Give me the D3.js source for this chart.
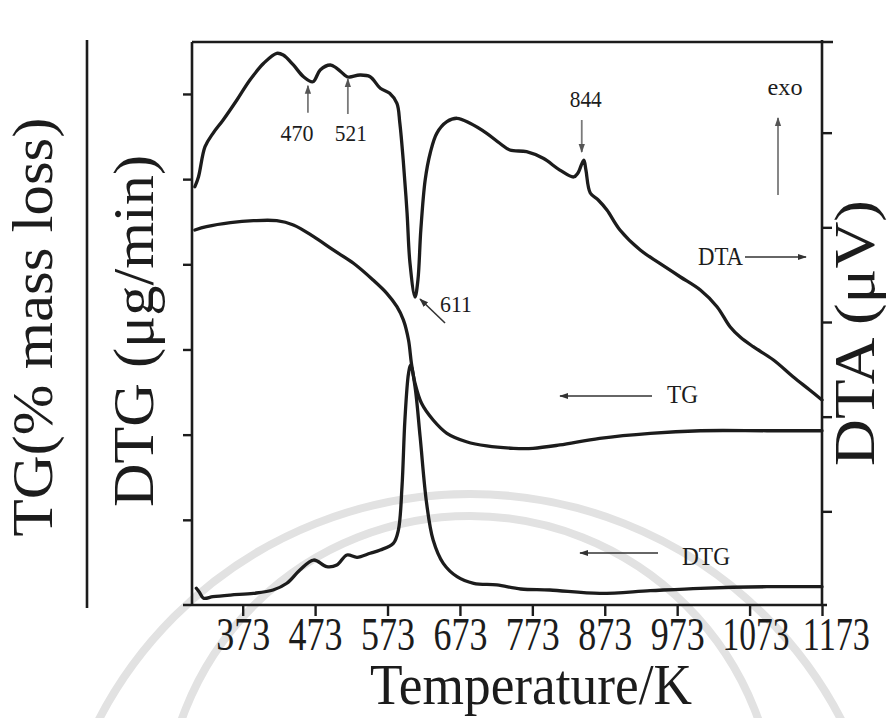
<!DOCTYPE html>
<html>
<head>
<meta charset="utf-8">
<script src="https://cdn.jsdelivr.net/npm/d3@7"></script>
<style>
  html, body { margin: 0; padding: 0; background: #ffffff; }
  svg { display: block; }
  text { font-family: "Liberation Serif", "Times New Roman", serif; fill: #1c1c1c; }
</style>
</head>
<body>
<svg id="chart" width="889" height="718"></svg>
<script>
// ---- Data: thermal analysis curves (temperature in K) ----
// DTA signal, right axis units
const dtaTemp = [307, 312, 321, 332, 346, 365, 383, 402, 420, 429, 443, 457, 470, 480, 494, 503, 517, 521,
  535, 549, 563, 576, 586, 590, 595, 600, 604, 611, 615, 619, 625, 632, 641, 655, 669, 687, 710, 728,
  742, 765, 788, 811, 830, 836, 844, 847, 853, 864, 876, 894, 922, 949, 977, 1005, 1028, 1046, 1060,
  1078, 1106, 1133, 1156, 1173];
const dtaValues = [44.29, 45.35, 48.52, 49.93, 51.34, 53.45, 55.56, 57.33, 58.38, 58.20, 57.15, 55.91, 55.38,
  56.62, 57.15, 56.80, 55.91, 55.88, 56.09, 55.91, 54.69, 54.16, 53.10, 51.02, 46.79, 41.51, 36.23, 32.64,
  34.44, 39.72, 45.00, 47.85, 49.93, 51.16, 51.52, 50.99, 49.93, 48.88, 48.17, 47.99, 47.29, 46.05, 45.32,
  45.74, 47.11, 46.05, 43.63, 42.89, 41.83, 39.72, 37.60, 36.20, 34.78, 33.38, 31.62, 29.50, 28.41, 27.39,
  25.99, 24.22, 22.82, 21.76];

// TG curve, left axis units
const tgTemp = [307, 323, 356, 388, 420, 443, 471, 498, 526, 553, 572, 586, 595, 602, 606, 611, 620, 636,
  655, 682, 710, 747, 774, 811, 866, 936, 1005, 1097, 1173];
const tgValues = [44.03, 44.42, 44.89, 45.12, 45.12, 44.62, 43.24, 41.68, 40.12, 38.16, 36.59, 35.02, 33.45,
  31.11, 28.38, 26.03, 23.68, 21.72, 20.16, 19.17, 18.67, 18.40, 18.40, 18.79, 19.57, 20.16, 20.46, 20.46,
  20.46];

// DTG curve, left axis units
const dtgTemp = [309, 313, 319, 332, 356, 388, 415, 434, 452, 471, 489, 503, 517, 531, 549, 563, 581, 588,
  593, 597, 602, 605, 611, 618, 627, 636, 650, 669, 692, 724, 757, 797, 866, 936, 1005, 1097, 1173];
const dtgValues = [1.96, 1.53, 0.79, 0.97, 1.17, 1.37, 1.76, 2.55, 4.11, 5.28, 4.50, 4.69, 5.87, 5.60, 6.07,
  6.46, 7.24, 8.80, 13.89, 21.71, 27.19, 28.17, 25.63, 19.76, 11.94, 7.63, 4.89, 3.33, 2.55, 2.35, 1.88,
  1.76, 1.37, 1.68, 1.96, 2.15, 2.15];

// Axis ticks
const xTicks = [373, 473, 573, 673, 773, 873, 973, 1073, 1173];
const leftTicks = [10, 20, 30, 40, 50, 60];
const rightTicks = [10, 20, 30, 40, 50];

// Marked DTA events (K)
const eventTemps = [470, 521, 611, 844];

// ---- Scales ----
const x = d3.scaleLinear().domain([303, 1173]).range([192, 822]);
const yL = d3.scaleLinear().domain([0, 66.1]).range([605, 42]);
const yR = d3.scaleLinear().domain([0, 60]).range([606, 38]);

const svg = d3.select("#chart");
const ink = "#1c1c1c";

// Faint emblem arcs in the background
const wm = svg.append("g").attr("fill", "none").attr("stroke", "#e2e2e2").attr("stroke-width", 8);
wm.append("circle").attr("cx", 470).attr("cy", 912).attr("r", 418);
wm.append("circle").attr("cx", 470).attr("cy", 822).attr("r", 306);

// Arrow markers
const defs = svg.append("defs");
function marker(id, color) {
  defs.append("marker")
    .attr("id", id).attr("viewBox", "0 0 10 10")
    .attr("refX", 9).attr("refY", 5)
    .attr("markerWidth", 9).attr("markerHeight", 9)
    .attr("markerUnits", "userSpaceOnUse")
    .attr("orient", "auto")
    .append("path").attr("d", "M0,1.5 L10,5 L0,8.5 Z").attr("fill", color);
}
marker("arrowDark", "#333");
marker("arrowGray", "#555");

// ---- Axes ----
const [x0, x1] = x.range();
const yBottom = yL.range()[0], yTop = yL.range()[1];

const axisStyle = g => {
  g.select(".domain").remove();
  g.selectAll(".tick line").attr("stroke", ink).attr("stroke-width", 2.4);
};

svg.append("g")
  .attr("transform", `translate(${x0},0)`)
  .call(d3.axisLeft(yL).tickValues(leftTicks).tickSize(9).tickFormat(""))
  .call(axisStyle);

svg.append("g")
  .attr("transform", `translate(${x1},0)`)
  .call(d3.axisRight(yR).tickValues(rightTicks).tickSize(10).tickFormat(""))
  .call(axisStyle);

const xAxis = svg.append("g")
  .attr("transform", `translate(0,${yBottom})`)
  .call(d3.axisBottom(x).tickValues(xTicks).tickSize(11).tickFormat(d3.format("d")))
  .call(axisStyle);

xAxis.selectAll(".tick text")
  .attr("y", 45).attr("dy", 0)
  .attr("dx", d => d > 1000 ? (d - 1000) * 0.08 : 0)
  .attr("font-size", 47)
  .attr("font-family", "Liberation Serif, Times New Roman, serif")
  .attr("fill", ink)
  .attr("textLength", d => String(d).length === 4 ? 67 : 54)
  .attr("lengthAdjust", "spacingAndGlyphs");

// Frame lines
const frame = svg.append("g").attr("stroke", ink).attr("stroke-width", 2.6).attr("fill", "none");
frame.append("line").attr("x1", x0).attr("x2", x0).attr("y1", yTop).attr("y2", yBottom);
frame.append("line").attr("x1", x0).attr("x2", x1 + 11).attr("y1", yTop).attr("y2", yTop);
frame.append("line").attr("x1", x1).attr("x2", x1).attr("y1", yTop - 2).attr("y2", yBottom);
frame.append("line").attr("x1", x0 - 9).attr("x2", x1 + 5).attr("y1", yBottom).attr("y2", yBottom);

// Divider between the two left-axis titles
svg.append("line")
  .attr("x1", 87).attr("x2", 87).attr("y1", 40).attr("y2", 608)
  .attr("stroke", ink).attr("stroke-width", 2.6);

// ---- Curves ----
const curve = d3.curveCatmullRom.alpha(0.5);
function drawCurve(temps, vals, yScale) {
  const pts = temps.map((t, i) => [t, vals[i]]);
  svg.append("path")
    .datum(pts)
    .attr("fill", "none")
    .attr("stroke", ink)
    .attr("stroke-width", 3.3)
    .attr("stroke-linejoin", "round")
    .attr("stroke-linecap", "round")
    .attr("d", d3.line().x(d => x(d[0])).y(d => yScale(d[1])).curve(curve));
}
drawCurve(tgTemp, tgValues, yL);
drawCurve(dtgTemp, dtgValues, yL);
drawCurve(dtaTemp, dtaValues, yR);

// ---- Event annotations on the DTA curve ----
const dtaAt = t => yR(dtaValues[dtaTemp.indexOf(t)]);
const ann = svg.append("g");

function arrow(xa, ya, xb, yb, dark) {
  ann.append("line")
    .attr("x1", xa).attr("y1", ya).attr("x2", xb).attr("y2", yb)
    .attr("stroke", dark ? "#333" : "#7a7a7a")
    .attr("stroke-width", dark ? 1.6 : 1.8)
    .attr("marker-end", `url(#${dark ? "arrowDark" : "arrowGray"})`);
}
function label(txt, xa, ya, size, len, anchor) {
  ann.append("text")
    .attr("x", xa).attr("y", ya)
    .attr("font-size", size)
    .attr("text-anchor", anchor || "middle")
    .attr("textLength", len)
    .attr("lengthAdjust", "spacingAndGlyphs")
    .text(txt);
}

// 470 and 521: arrows pointing up at the shoulders
{
  const t = eventTemps[0], px = x(t) - 5, py = dtaAt(t);
  arrow(px, py + 31, px, py + 4, false);
  label(String(t), px - 11, 141, 24, 33);
}
{
  const t = eventTemps[1], px = x(t) - 2, py = dtaAt(t);
  arrow(px, py + 37, px, py + 2, false);
  label(String(t), px + 3, 141, 24, 32);
}
// 611: endothermic minimum
{
  const t = eventTemps[2], px = x(t), py = dtaAt(t);
  arrow(px + 30, py + 26, px + 5, py + 2, true);
  label(String(t), px + 25, py + 15, 24, 32, "start");
}
// 844: small exothermic spike
{
  const t = eventTemps[3], px = x(t) - 2, py = dtaAt(t);
  arrow(px, py - 40, px, py - 8, false);
  label(String(t), px + 4, 107, 24, 32);
}

// exo direction
label("exo", 785, 95, 24, 35);
arrow(778, 195, 778, 118, false);

// Curve identifiers with arrows toward their axes
label("DTA", 698, 265, 25, 45, "start");
arrow(745, 257, 806, 257, true);
label("TG", 667, 403, 25, 31, "start");
arrow(652, 396, 560, 396, true);
label("DTG", 682, 565, 25, 48, "start");
arrow(658, 553, 580, 553, true);

// ---- Axis titles ----
svg.append("text")
  .attr("x", 531).attr("y", 704)
  .attr("text-anchor", "middle")
  .attr("font-size", 56)
  .attr("textLength", 322).attr("lengthAdjust", "spacingAndGlyphs")
  .text("Temperature/K");

svg.append("text")
  .attr("transform", "translate(52,327) rotate(-90)")
  .attr("text-anchor", "middle")
  .attr("font-size", 58)
  .attr("textLength", 419).attr("lengthAdjust", "spacingAndGlyphs")
  .text("TG(% mass loss)");

svg.append("text")
  .attr("transform", "translate(153,331) rotate(-90)")
  .attr("text-anchor", "middle")
  .attr("font-size", 58)
  .attr("textLength", 352).attr("lengthAdjust", "spacingAndGlyphs")
  .text("DTG (μg/min)");

svg.append("text")
  .attr("transform", "translate(874,333) rotate(-90)")
  .attr("text-anchor", "middle")
  .attr("font-size", 58)
  .attr("textLength", 266).attr("lengthAdjust", "spacingAndGlyphs")
  .text("DTA (μV)");
</script>
</body>
</html>
